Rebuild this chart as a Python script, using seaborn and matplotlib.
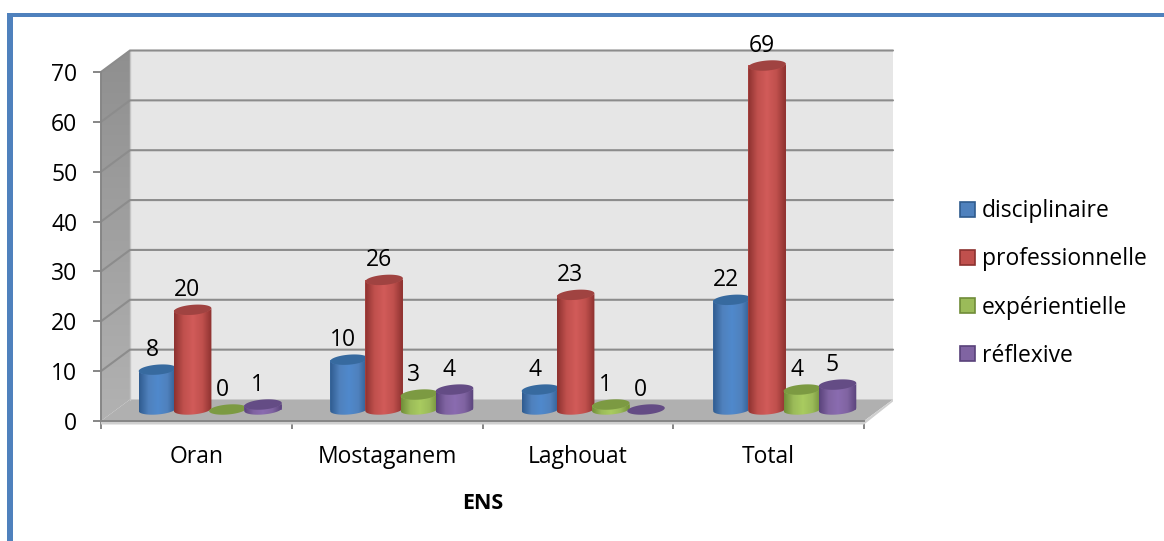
import numpy as np
import pandas as pd
import matplotlib
matplotlib.use("Agg")
import matplotlib.pyplot as plt
from matplotlib.colors import LinearSegmentedColormap
from matplotlib.patches import Patch, Polygon, Rectangle
import seaborn as sns

# Survey counts per school and competence type
sites = ["Oran", "Mostaganem", "Laghouat", "Total"]
disciplinaire = [8, 10, 4, 22]
professionnelle = [20, 26, 23, 69]
experientielle = [0, 3, 1, 4]
reflexive = [1, 4, 0, 5]
types = ["disciplinaire", "professionnelle", "expérientielle", "réflexive"]
y_ticks = [0, 10, 20, 30, 40, 50, 60, 70]

W, H = 1164, 541
FONT = "Open Sans"
SIZE = 16.5
BASE = {"disciplinaire": "#4f81bd", "professionnelle": "#c0504d",
        "expérientielle": "#9bbb59", "réflexive": "#8064a2"}
LIGHT = {"disciplinaire": "#5089cc", "professionnelle": "#d15b59",
         "expérientielle": "#a9cb60", "réflexive": "#8a6cb0"}
DARK = {"disciplinaire": "#2f5b8e", "professionnelle": "#8c312f",
        "expérientielle": "#6f8c38", "réflexive": "#59427a"}
CAP = {"disciplinaire": "#376a9f", "professionnelle": "#a04341",
       "expérientielle": "#7c9a42", "réflexive": "#644c85"}

sns.set_theme(style="white")
plt.rcParams["font.family"] = [FONT, "DejaVu Sans"]

df = pd.DataFrame({"ENS": sites * 4,
                   "type": np.repeat(types, len(sites)),
                   "count": disciplinaire + professionnelle + experientielle + reflexive})

fig = plt.figure(figsize=(W / 100, H / 100), dpi=100, facecolor="white")


def box(x0, y_top, x1, y_bottom):
    """Figure-fraction rectangle from pixel edges."""
    return [x0 / W, 1 - y_bottom / H, (x1 - x0) / W, (y_bottom - y_top) / H]


# Page border around the chart
for r in ([7, 13, 5.5, H - 13], [7, 13, W - 7, 3.5]):
    fig.add_artist(Rectangle((r[0] / W, 1 - (r[1] + r[3]) / H), r[2] / W, r[3] / H,
                             transform=fig.transFigure, fc="#4f81bd", ec="none"))

# Front plane: carries the value and category axes and the 3D box
ax = fig.add_axes(box(101, 72, 864, 421))
ax.patch.set_visible(False)
ax.set_xlim(-0.5, 3.5)
ax.set_ylim(0, 70)
DX, DY = 29 / 190.75, 21.5 / 4.986
x0, x1 = -0.5, 3.5
GRID = "#8c8c8c"


def gradient_polygon(axes, pts, colors, horizontal, zorder):
    """Fill a polygon with a linear colour ramp."""
    pts = np.asarray(pts)
    ramp = LinearSegmentedColormap.from_list("ramp", colors)
    grad = np.linspace(0, 1, 256)
    grad = grad[None, :] if horizontal else grad[:, None]
    im = axes.imshow(grad, cmap=ramp, aspect="auto", origin="lower", interpolation="bilinear",
                     extent=(pts[:, 0].min(), pts[:, 0].max(), pts[:, 1].min(), pts[:, 1].max()),
                     zorder=zorder)
    clip = Polygon(pts, closed=True, transform=axes.transData, fc="none", ec="none")
    im.set_clip_path(clip)
    im.set_clip_box(fig.bbox)
    return im


# Back wall, side wall, floor and lip
ax.add_patch(Polygon([(x0 + DX, DY), (x1 + DX, DY), (x1 + DX, 70 + DY), (x0 + DX, 70 + DY)],
                     fc="#e6e6e6", ec="none", clip_on=False, zorder=1))
gradient_polygon(ax, [(x0, 0), (x0 + DX, DY), (x0 + DX, 70 + DY), (x0, 70)],
                 ["#b2b2b2", "#8f8f8f"], False, 1)
ax.add_patch(Polygon([(x0, 0), (x0 + DX, DY), (x1 + DX, DY), (x1, 0)],
                     fc="#b0b0b0", ec="none", clip_on=False, zorder=1.2))
ax.add_patch(Polygon([(x0, 0), (x1, 0), (x1 + DX, DY), (x1 + DX, DY - 0.4), (x1, -0.7), (x0, -0.7)],
                     fc="#cfcfcf", ec="none", clip_on=False, zorder=1.3))
for v in y_ticks[1:]:
    ax.plot([x0, x0 + DX, x1 + DX], [v, v + DY, v + DY], color=GRID, lw=1.5,
            clip_on=False, zorder=1.5, solid_joinstyle="miter")
ax.plot([x0 + DX, x0 + DX], [DY, 70 + DY], color="#c4c4c4", lw=1, clip_on=False, zorder=1.4)

# Axes, ticks and labels
for name, sp in ax.spines.items():
    sp.set_visible(name in ("left", "bottom"))
    sp.set_color("#868686")
    sp.set_linewidth(1.4)
    sp.set_zorder(2)
ax.set_yticks(y_ticks)
ax.tick_params(axis="y", length=6, width=1.4, color="#868686", labelsize=SIZE, pad=11,
               labelcolor="black", left=True)
ax.set_xticks(np.arange(-0.5, 4, 1))
ax.set_xticklabels([])
ax.set_xticks(range(len(sites)), sites, minor=True)
ax.tick_params(axis="x", which="major", length=6, width=1.4, color="#868686", bottom=True)
ax.tick_params(axis="x", which="minor", length=0, labelsize=SIZE, pad=17.5, labelcolor="black")
ax.set_xlabel("ENS", fontsize=15.5, fontweight="bold", color="black", labelpad=17)
ax.grid(False)
ax.set_xlim(-0.5, 3.5)
ax.set_ylim(0, 70)

# Mid-depth plane: carries the bars, pushed back into the box
ax_bars = fig.add_axes(box(114.5, 72 - 11.5, 880.5, 421 - 11.5))
ax_bars.patch.set_visible(False)
sns.barplot(data=df, x="ENS", y="count", hue="type", order=sites, hue_order=types,
            palette=BASE, saturation=1, width=0.735, gap=0, legend=False, ax=ax_bars)
ax_bars.set_axis_off()

A = 37.5 / 191.5  # cylinder diameter in category units
RY, TILT = 1.0, 0.3  # cap half height and slant in value units
t_all = np.linspace(0, 2 * np.pi, 80)

for i, (name, cont) in enumerate(zip(types, ax_bars.containers)):
    for rect, v in zip(cont, cont.datavalues):
        cx = rect.get_x() + rect.get_width() / 2
        rect.set_x(cx - A / 2)
        rect.set_width(A)
        rect.set_linewidth(0)
        rect.set_zorder(3 + i)
        rect.set_clip_on(False)
        # Outline of the cylinder side: lower front arc of the base, then back over the top
        t = np.linspace(np.pi, 2 * np.pi, 40)
        low = np.c_[cx + A / 2 * np.cos(t), RY * np.sin(t) + TILT * np.cos(t)]
        high = np.c_[cx + A / 2 * np.cos(t[::-1]), v + RY * np.sin(t[::-1]) + TILT * np.cos(t[::-1])]
        if v > 0:
            gradient_polygon(ax_bars, np.r_[low, high],
                             [DARK[name], BASE[name], LIGHT[name], BASE[name], DARK[name]],
                             True, 3.1 + i)
        cap = np.c_[cx + A / 2 * np.cos(t_all), v + RY * np.sin(t_all) + TILT * np.cos(t_all)]
        ax_bars.add_patch(Polygon(cap, fc=CAP[name], ec="none", zorder=3.2 + i, clip_on=False))
        ax_bars.annotate(f"{int(v)}", (cx, v), xytext=(-4, 14), textcoords="offset points",
                         ha="center", va="center", fontsize=SIZE, color="black", zorder=10)

ax_bars.set_xlim(-0.5, 3.5)
ax_bars.set_ylim(0, 70)

# Legend
handles = [Patch(fc=BASE[n], ec=DARK[n], lw=1.2, label=n) for n in types]
fig.legend(handles=handles, loc="center left", bbox_to_anchor=(960 / W, 1 - 283.5 / H),
           frameon=False, fontsize=SIZE, labelspacing=1.05, handlelength=0.65, handleheight=0.65,
           handletextpad=0.32, borderpad=0, borderaxespad=0, labelcolor="black")

fig.savefig("out.png", dpi=100)
